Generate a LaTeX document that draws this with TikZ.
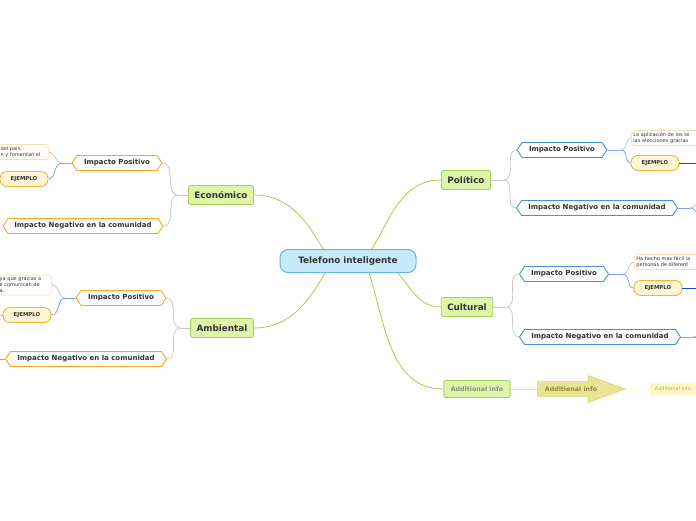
\documentclass[tikz,border=0pt]{standalone}
\usepackage{fontspec}
\setmainfont{DejaVu Sans}
\usetikzlibrary{shapes.symbols,shapes.arrows,positioning}
\definecolor{rootfill}{HTML}{C7EBFB}
\definecolor{rootline}{HTML}{5CB9E8}
\definecolor{topicfill}{HTML}{DDF5A8}
\definecolor{topicline}{HTML}{A8D15A}
\definecolor{trunk}{HTML}{A8CB4A}
\definecolor{warm}{HTML}{F5A623}
\definecolor{cool}{HTML}{4A90D9}
\definecolor{ejfill}{HTML}{FFF6D5}
\definecolor{ejline}{HTML}{F5B335}
\definecolor{noteline}{HTML}{F8DDB3}
\definecolor{twig}{HTML}{C8C8C8}
\definecolor{bluetwig}{HTML}{7FA7EA}
\definecolor{deepblue}{HTML}{1F45D0}
\definecolor{khaki}{HTML}{E8E397}
\definecolor{khakiline}{HTML}{D9D477}
\definecolor{paleyellow}{HTML}{FFF6C2}
\definecolor{ink}{HTML}{333333}

\begin{document}
\begin{tikzpicture}[
  x=1pt,y=-1pt,
  root/.style={draw=rootline,fill=rootfill,rounded corners=8pt,line width=1pt,minimum width=136pt,minimum height=23pt,text=ink,font=\bfseries\fontsize{8.8}{10}\selectfont},
  topic/.style={draw=topicline,fill=topicfill,rounded corners=2pt,line width=0.9pt,minimum height=19pt,inner xsep=6pt,text=ink,font=\bfseries\fontsize{8.8}{10}\selectfont},
  hexa/.style={signal,signal to=west and east,signal pointer angle=112,draw=#1,fill=white,line width=0.9pt,minimum height=15pt,inner sep=0pt,text=ink,font=\bfseries\fontsize{7}{8}\selectfont},
  ejemplo/.style={draw=ejline,fill=ejfill,rounded corners=7pt,line width=0.9pt,minimum width=48pt,minimum height=15pt,inner sep=0pt,text=ink,font=\bfseries\fontsize{5.4}{6}\selectfont},
  note/.style={draw=noteline,fill=white,rounded corners=3pt,line width=0.7pt,inner sep=2pt,align=left,text=ink,font=\fontsize{5}{6}\selectfont},
  trunkline/.style={draw=trunk,line width=0.8pt},
  twigline/.style={draw=twig,line width=0.8pt},
  bluetwigline/.style={draw=bluetwig,line width=0.8pt},
  deepline/.style={draw=deepblue,line width=0.9pt},
]
  \useasboundingbox (0,0) rectangle (696,520);
  \clip (0,0) rectangle (696,520);

  % centre and main topics
  \node[root] (root) at (348,261) {Telefono inteligente};
  \node[topic] (eco) at (221,195) {Económico};
  \node[topic] (amb) at (222,328) {Ambiental};
  \node[topic] (pol) at (466,180) {Político};
  \node[topic] (cul) at (467,307) {Cultural};
  \node[topic,minimum height=17pt,inner xsep=7pt,text=gray!80!olive,font=\bfseries\fontsize{6.3}{7}\selectfont] (add) at (477,389) {Additional info};

  \draw[trunkline] ([xshift=-25pt]root.north) to[out=120,in=0] (eco.east);
  \draw[trunkline] ([xshift=24pt]root.north) to[out=60,in=180] (pol.west);
  \draw[trunkline] ([xshift=-23pt]root.south) to[out=-120,in=0] (amb.east);
  \draw[trunkline] ([xshift=50pt]root.south) to[out=-50,in=180] (cul.west);
  \draw[trunkline] ([xshift=21pt]root.south) to[out=-72,in=180] (add.west);

  % Económico
  \node[hexa=warm,minimum width=90pt] (ecoPos) at (117,163) {Impacto Positivo};
  \node[hexa=warm,minimum width=160pt] (ecoNeg) at (83,226) {Impacto Negativo en la comunidad};
  \node[note,anchor=east,text width=46pt] (ecoNote) at (49,152) {del país,\\n y fomentan el};
  \node[ejemplo] (ecoEj) at (24,179) {EJEMPLO};
  \draw[twigline] (eco.west) -- ++(-10,0) coordinate (ecoJ);
  \draw[twigline] (ecoJ) to[out=180,in=0] (ecoPos.east);
  \draw[twigline] (ecoJ) to[out=180,in=0] (ecoNeg.east);
  \draw[bluetwigline] (ecoPos.west) -- ++(-10,0) coordinate (ecoPosJ);
  \draw[twigline] (ecoPosJ) to[out=180,in=0] (ecoNote.east);
  \draw[bluetwigline] (ecoPosJ) to[out=180,in=0] (ecoEj.east);

  % Ambiental
  \node[hexa=warm,minimum width=90pt] (ambPos) at (121,298) {Impacto Positivo};
  \node[hexa=warm,minimum width=161pt] (ambNeg) at (86,359) {Impacto Negativo en la comunidad};
  \node[note,anchor=east,text width=50pt] (ambNote) at (52,285) {ya que gracias a\\e comunican de\\a.};
  \node[ejemplo] (ambEj) at (27,315) {EJEMPLO};
  \coordinate (ambEjOut) at (-5,315);
  \coordinate (ambNegOut) at (-5,359);
  \draw[twigline] (amb.west) -- ++(-10,0) coordinate (ambJ);
  \draw[twigline] (ambJ) to[out=180,in=0] (ambPos.east);
  \draw[twigline] (ambJ) to[out=180,in=0] (ambNeg.east);
  \draw[bluetwigline] (ambPos.west) -- ++(-10,0) coordinate (ambPosJ);
  \draw[twigline] (ambPosJ) to[out=180,in=0] (ambNote.east);
  \draw[bluetwigline] (ambPosJ) to[out=180,in=0] (ambEj.east);
  \draw[twigline] (ambEj.west) -- (ambEjOut);
  \draw[bluetwigline] (ambNeg.west) -- (ambNegOut);

  % Político
  \node[hexa=cool,minimum width=90pt] (polPos) at (562,150) {Impacto Positivo};
  \node[hexa=cool,minimum width=161pt] (polNeg) at (597,208) {Impacto Negativo en la comunidad};
  \node[note,anchor=west,text width=80pt] (polNote) at (631,138) {La aplicación de los te\\las elecciones gracias};
  \node[ejemplo] (polEj) at (655,163) {EJEMPLO};
  \coordinate (polEjOut) at (700,163);
  \coordinate (polNegUp) at (706,194);
  \coordinate (polNegDown) at (706,222);
  \draw[twigline] (pol.east) -- ++(13,0) coordinate (polJ);
  \draw[twigline] (polJ) to[out=0,in=180] (polPos.west);
  \draw[twigline] (polJ) to[out=0,in=180] (polNeg.west);
  \draw[bluetwigline] (polPos.east) -- ++(14,0) coordinate (polPosJ);
  \draw[twigline] (polPosJ) to[out=0,in=180] (polNote.west);
  \draw[bluetwigline] (polPosJ) to[out=0,in=180] (polEj.west);
  \draw[deepline] (polEj.east) -- (polEjOut);
  \draw[bluetwigline] (polNeg.east) -- ++(12,0) coordinate (polNegJ);
  \draw[twigline] (polNegJ) to[out=0,in=180] (polNegUp);
  \draw[bluetwigline] (polNegJ) to[out=0,in=180] (polNegDown);

  % Cultural
  \node[hexa=cool,minimum width=89pt] (culPos) at (564,274) {Impacto Positivo};
  \node[hexa=cool,minimum width=161pt] (culNeg) at (600,337) {Impacto Negativo en la comunidad};
  \node[note,anchor=west,text width=80pt] (culNote) at (634,262) {Ha hecho mas fácil la\\personas de diferent};
  \node[ejemplo] (culEj) at (658,288) {EJEMPLO};
  \coordinate (culEjOut) at (700,288);
  \coordinate (culNegUp) at (708,323);
  \coordinate (culNegDown) at (708,351);
  \draw[twigline] (cul.east) -- ++(13,0) coordinate (culJ);
  \draw[twigline] (culJ) to[out=0,in=180] (culPos.west);
  \draw[twigline] (culJ) to[out=0,in=180] (culNeg.west);
  \draw[bluetwigline] (culPos.east) -- ++(14,0) coordinate (culPosJ);
  \draw[twigline] (culPosJ) to[out=0,in=180] (culNote.west);
  \draw[bluetwigline] (culPosJ) to[out=0,in=180] (culEj.west);
  \draw[deepline] (culEj.east) -- (culEjOut);
  \draw[bluetwigline] (culNeg.east) -- ++(12,0) coordinate (culNegJ);
  \draw[twigline] (culNegJ) to[out=0,in=180] (culNegUp);
  \draw[bluetwigline] (culNegJ) to[out=0,in=180] (culNegDown);

  % Additional info
  \node[single arrow,anchor=west,draw=khakiline,fill=khaki,line width=0.6pt,minimum height=88pt,minimum width=27pt,single arrow tip angle=40,single arrow head extend=5.5pt,inner xsep=1pt,inner ysep=4pt,text=olive!70!gray,font=\bfseries\fontsize{6.3}{7}\selectfont] (addArrow) at (537,389) {Additional info\hspace{20pt}};
  \node[fill=paleyellow,minimum width=46pt,minimum height=12pt,inner sep=1pt,text=olive!40!gray!70,font=\fontsize{5}{6}\selectfont] (addNote) at (673,389) {Additional info};
  \draw[draw=khakiline!70,line width=0.8pt] (add.east) -- (addArrow.west);
  \draw[draw=paleyellow!80!yellow,line width=0.8pt] (addArrow.tip) -- (addNote.west);
\end{tikzpicture}
\end{document}
